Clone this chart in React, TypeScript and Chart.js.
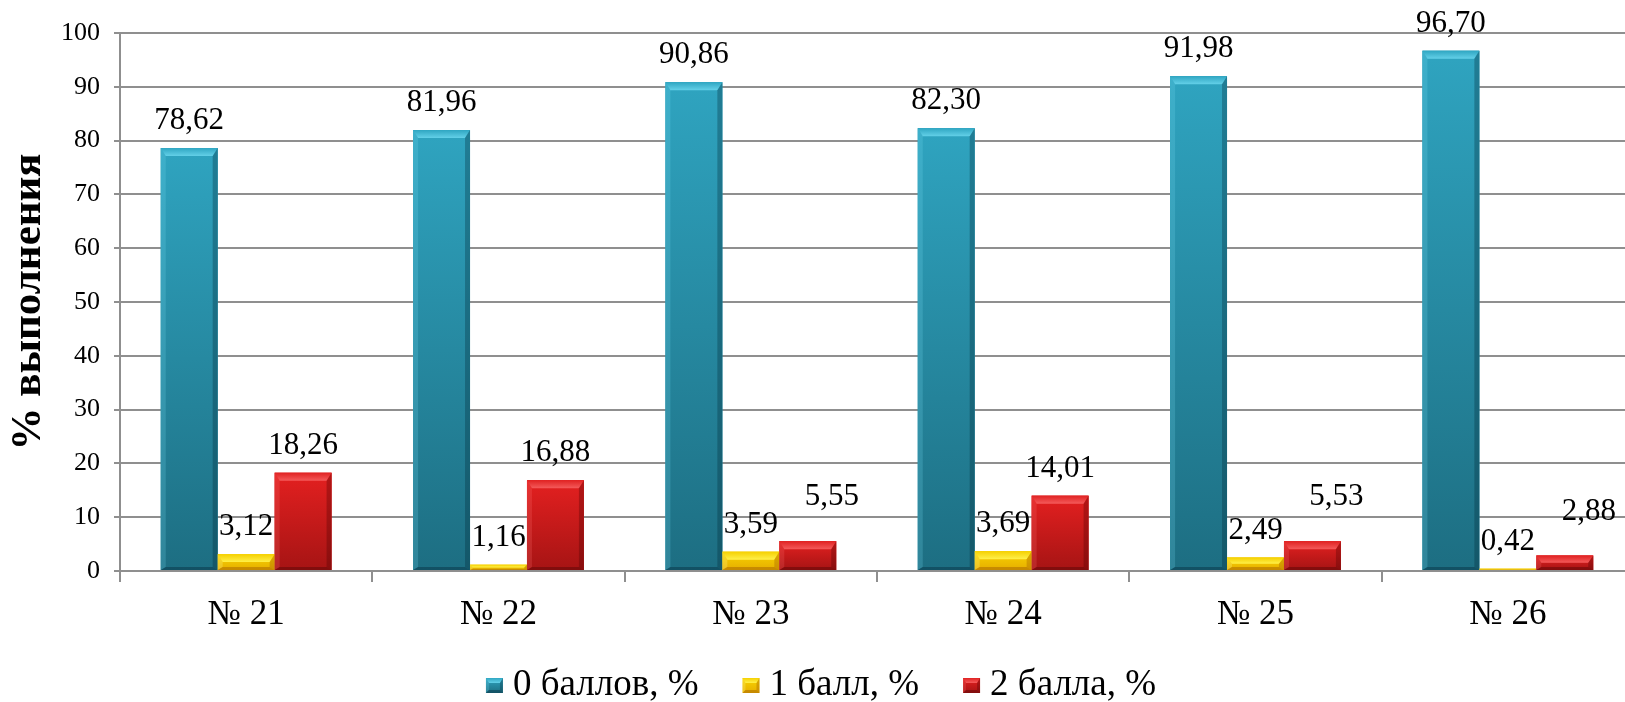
import { useEffect, useRef } from "react";
import { Chart, registerables } from "chart.js";

Chart.register(...registerables);

// Tasks and the share of pupils per score
const categories = ["№ 21", "№ 22", "№ 23", "№ 24", "№ 25", "№ 26"];
const zeroPoints = [78.62, 81.96, 90.86, 82.3, 91.98, 96.7];
const onePoint = [3.12, 1.16, 3.59, 3.69, 2.49, 0.42];
const twoPoints = [18.26, 16.88, 5.55, 14.01, 5.53, 2.88];
const seriesNames = ["0 баллов, %", "1 балл, %", "2 балла, %"];
const axisTitle = "% выполнения";
const yMin = 0;
const yMax = 100;
const yStep = 10;

const SERIF = "'Liberation Serif', 'Times New Roman', serif";
const GRID = "#8f8f8f";

type Palette = {
  base: string;
  top: string;
  bottom: string;
  bevelLight: string;
  bevelMid: string;
  sideLeft: string;
  sideRight: string;
  bottomEdge: string;
};

const palettes: Palette[] = [
  {
    base: "#2A9BB5",
    top: "#2FA4C0",
    bottom: "#1D6E82",
    bevelLight: "#2FA6C2",
    bevelMid: "#63D0E8",
    sideLeft: "rgba(120,220,240,0.22)",
    sideRight: "rgba(0,35,50,0.30)",
    bottomEdge: "rgba(0,30,45,0.35)",
  },
  {
    base: "#F2C200",
    top: "#F8D400",
    bottom: "#E6AE00",
    bevelLight: "#F5D000",
    bevelMid: "#FFF04A",
    sideLeft: "rgba(255,250,150,0.25)",
    sideRight: "rgba(160,90,0,0.35)",
    bottomEdge: "rgba(150,80,0,0.40)",
  },
  {
    base: "#D61A1A",
    top: "#E42020",
    bottom: "#A61414",
    bevelLight: "#E02222",
    bevelMid: "#F45A5A",
    sideLeft: "rgba(255,120,120,0.20)",
    sideRight: "rgba(70,0,0,0.30)",
    bottomEdge: "rgba(60,0,0,0.35)",
  },
];

const fmt = (v: number) => v.toFixed(2).replace(".", ",");

function bevelBox(
  ctx: CanvasRenderingContext2D,
  left: number,
  top: number,
  right: number,
  bottom: number,
  p: Palette,
  bevel: number,
  side: number
) {
  const w = right - left;
  const h = bottom - top;
  if (w <= 0 || h <= 0) return;
  const b = Math.min(bevel, h / 2);
  const s = Math.min(side, w / 4, h / 2);
  const sb = Math.min(3, h / 4);

  const g = ctx.createLinearGradient(0, top, 0, bottom);
  g.addColorStop(0, p.top);
  g.addColorStop(1, p.bottom);
  ctx.fillStyle = g;
  ctx.fillRect(left, top, w, h);

  const tg = ctx.createLinearGradient(0, top, 0, top + b);
  tg.addColorStop(0, p.bevelLight);
  tg.addColorStop(1, p.bevelMid);
  ctx.fillStyle = tg;
  ctx.beginPath();
  ctx.moveTo(left, top);
  ctx.lineTo(right, top);
  ctx.lineTo(right - s, top + b);
  ctx.lineTo(left + s, top + b);
  ctx.closePath();
  ctx.fill();

  ctx.fillStyle = p.sideLeft;
  ctx.beginPath();
  ctx.moveTo(left, top);
  ctx.lineTo(left + s, top + b);
  ctx.lineTo(left + s, bottom - sb);
  ctx.lineTo(left, bottom);
  ctx.closePath();
  ctx.fill();

  ctx.fillStyle = p.sideRight;
  ctx.beginPath();
  ctx.moveTo(right, top);
  ctx.lineTo(right - s, top + b);
  ctx.lineTo(right - s, bottom - sb);
  ctx.lineTo(right, bottom);
  ctx.closePath();
  ctx.fill();

  ctx.fillStyle = p.bottomEdge;
  ctx.beginPath();
  ctx.moveTo(left, bottom);
  ctx.lineTo(left + s, bottom - sb);
  ctx.lineTo(right - s, bottom - sb);
  ctx.lineTo(right, bottom);
  ctx.closePath();
  ctx.fill();
}

// Bevelled bars, value labels above them and the legend
const barStylePlugin = {
  id: "barStyle",
  afterDatasetsDraw(chart: Chart) {
    const ctx = chart.ctx;
    ctx.save();
    chart.data.datasets.forEach((_ds, i) => {
      const meta = chart.getDatasetMeta(i);
      meta.data.forEach((el: any) => {
        const { x, y, base, width } = el.getProps(["x", "y", "base", "width"], true);
        bevelBox(ctx, x - width / 2, Math.min(y, base), x + width / 2, Math.max(y, base), palettes[i], 8, 5);
      });
    });

    // value labels
    const fs = 31;
    ctx.font = `${fs}px ${SERIF}`;
    ctx.textAlign = "center";
    ctx.textBaseline = "alphabetic";
    ctx.fillStyle = "#000";
    const gap = 19;
    const boxes: { x: number; y: number; w: number }[][] = [];
    chart.data.datasets.forEach((ds, i) => {
      const meta = chart.getDatasetMeta(i);
      boxes[i] = [];
      meta.data.forEach((el: any, j: number) => {
        const v = ds.data[j] as number;
        const txt = fmt(v);
        const w = ctx.measureText(txt).width;
        let lx = el.x;
        let ly = el.y - gap;
        // keep the "2 балла" label clear of the neighbouring "1 балл" label
        if (i === 2 && boxes[1] && boxes[1][j]) {
          const o = boxes[1][j];
          const margin = 12;
          const hOverlap = lx - w / 2 < o.x + o.w / 2 + margin && lx + w / 2 > o.x - o.w / 2 - margin;
          const vOverlap = Math.abs(ly - o.y) < fs * 0.75;
          if (hOverlap && vOverlap) {
            lx += 24;
            ly -= 17;
          }
        }
        boxes[i][j] = { x: lx, y: ly, w };
        ctx.fillText(txt, lx, ly);
      });
    });
    ctx.restore();
  },
  afterDraw(chart: Chart) {
    const ctx = chart.ctx;
    ctx.save();
    const fs = 37;
    const boxW = 17;
    const boxH = 15;
    const textGap = 10;
    const itemGap = 44;
    const centerX = 821;
    const baseline = 695;
    const boxTop = 678;
    ctx.font = `${fs}px ${SERIF}`;
    ctx.textBaseline = "alphabetic";
    ctx.textAlign = "left";
    const widths = seriesNames.map((n) => ctx.measureText(n).width);
    const total =
      widths.reduce((a, w) => a + boxW + textGap + w, 0) + itemGap * (seriesNames.length - 1);
    let x = centerX - total / 2;
    seriesNames.forEach((name, i) => {
      bevelBox(ctx, x, boxTop, x + boxW, boxTop + boxH, palettes[i], 5, 3);
      const tx = x + boxW + textGap;
      ctx.fillStyle = "#000";
      ctx.fillText(name, tx, baseline);
      x = tx + widths[i] + itemGap;
    });
    ctx.restore();
  },
};

export default function App() {
  const ref = useRef<HTMLCanvasElement | null>(null);

  useEffect(() => {
    if (!ref.current) return;
    Chart.defaults.font.family = SERIF;
    const chart = new Chart(ref.current, {
      type: "bar",
      data: {
        labels: categories,
        datasets: [zeroPoints, onePoint, twoPoints].map((d, i) => ({
          label: seriesNames[i],
          data: d,
          backgroundColor: palettes[i].base,
          borderWidth: 0,
          categoryPercentage: 0.677,
          barPercentage: 1,
        })),
      },
      options: {
        responsive: false,
        animation: false,
        devicePixelRatio: 1,
        layout: { padding: { top: 33, right: 6, bottom: 0, left: 0 } },
        plugins: {
          legend: { display: false },
          tooltip: { enabled: false },
        },
        scales: {
          x: {
            grid: {
              offset: true,
              drawOnChartArea: false,
              color: GRID,
              lineWidth: 2,
              tickLength: 11,
            },
            border: { color: GRID, width: 2 },
            ticks: { font: { family: SERIF, size: 35 }, color: "#000", padding: 12 },
            afterFit: (s: any) => {
              s.height = 131;
            },
          },
          y: {
            min: yMin,
            max: yMax,
            ticks: {
              stepSize: yStep,
              font: { family: SERIF, size: 26 },
              color: "#000",
              padding: 14,
            },
            grid: { color: GRID, lineWidth: 2, tickLength: 6 },
            border: { color: GRID, width: 2 },
            title: {
              display: true,
              text: axisTitle,
              font: { family: SERIF, size: 43, weight: "bold" },
              color: "#000",
              padding: { top: 3, bottom: 0 },
            },
            afterFit: (s: any) => {
              s.width = 120;
            },
          },
        },
      },
      plugins: [barStylePlugin],
    });
    return () => chart.destroy();
  }, []);

  return (
    <div
      style={{
        position: "fixed",
        left: 0,
        top: 0,
        width: 1625,
        height: 702,
        overflow: "hidden",
        background: "#fff",
      }}
    >
      <canvas ref={ref} width={1640} height={702} style={{ display: "block", width: 1640, height: 702 }} />
    </div>
  );
}
